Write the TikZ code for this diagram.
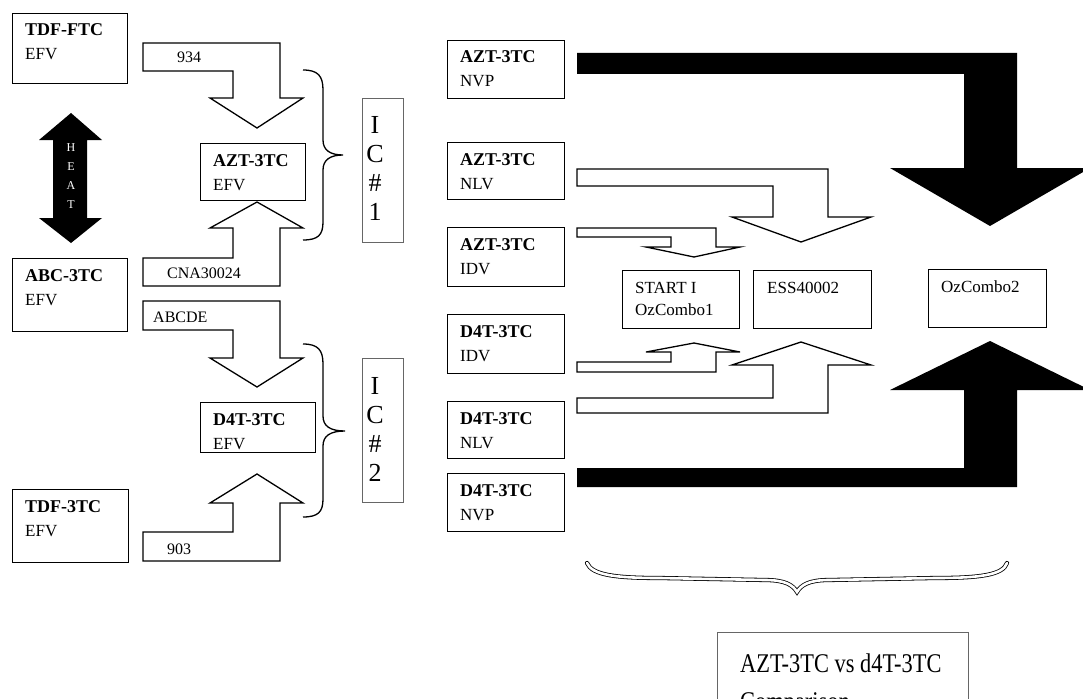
\documentclass[tikz,border=0pt]{standalone}
\usepackage{fontspec}
\setmainfont{Liberation Serif}
\newfontfamily\cmpfont[FakeStretch=0.83]{Liberation Serif}
\usetikzlibrary{calc}
\newcommand\twoline[7]{%
  \node[bx, minimum width=#4, minimum height=#5] (#1) at (#2,#3) {};
  \node[tx] (#1a) at ($(#1.north west)+(13,23)$) {#6};
  \node[tx] (#1b) at ($(#1.north west)+(13,47)$) {#7};}
\begin{document}
\begin{tikzpicture}[x=1pt,y=-1pt,
  bx/.style={draw, line width=1.4pt, inner sep=0pt, anchor=north west},
  tx/.style={inner sep=0pt, anchor=base west, font=\fontsize{17}{20}\selectfont},
  icbox/.style={draw=black!60, line width=0.8pt, inner sep=0pt, anchor=north west},
  ictext/.style={inner sep=0pt, align=center, font=\fontsize{26}{29}\selectfont},
  warrow/.style={draw, fill=white, line width=1.3pt, line join=miter},
  barrow/.style={fill=black},
  albl/.style={inner sep=0pt, anchor=base west, font=\fontsize{16}{18}\selectfont},
  brc/.style={line width=1.3pt}]
\clip (0,0) rectangle (1083,698);
\fill[white] (0,0) rectangle (1083,698);

% ---------- left column boxes
\twoline{tdf}{12}{13}{115}{70}{\textbf{\fontsize{18}{20}\selectfont TDF-FTC}}{EFV}
\twoline{abc}{12}{258}{115}{73}{\textbf{\fontsize{18}{20}\selectfont ABC-3TC}}{EFV}
\twoline{tdft}{12}{489}{116}{73}{\textbf{\fontsize{18}{20}\selectfont TDF-3TC}}{EFV}

% ---------- HEAT double arrow
\fill[barrow] (71,113) -- (102,140) -- (87,140) -- (87,218) -- (102,218) -- (71,243)
  -- (39,218) -- (53,218) -- (53,140) -- (39,140) -- cycle;
\node[text=white, inner sep=0pt, align=center, font=\fontsize{12}{19}\selectfont] (heat) at (71,176) {H\\E\\A\\T};

% ---------- left bent arrows
\path[warrow] (143,43) -- (280,43) -- (280,98) -- (303,98) -- (257,128) -- (210,98)
  -- (233,98) -- (233,71) -- (143,71) -- cycle;
\node[albl] (l934) at (177,63) {934};
\path[warrow] (143,286) -- (280,286) -- (280,228) -- (303,228) -- (257,202) -- (210,228)
  -- (233,228) -- (233,258) -- (143,258) -- cycle;
\node[albl] (lcna) at (167,278) {CNA30024};
\path[warrow] (143,301) -- (280,301) -- (280,358) -- (303,358) -- (257,387) -- (210,358)
  -- (233,358) -- (233,330) -- (143,330) -- cycle;
\node[albl] (labc) at (153,322) {ABCDE};
\path[warrow] (143,561) -- (280,561) -- (280,503) -- (303,503) -- (257,474) -- (210,503)
  -- (233,503) -- (233,532) -- (143,532) -- cycle;
\node[albl] (l903) at (167,554) {903};

% ---------- middle boxes
\twoline{azte}{200}{143}{105}{57}{\textbf{\fontsize{18}{20}\selectfont AZT-3TC}}{EFV}
\twoline{d4te}{200}{402}{115}{50}{\textbf{\fontsize{18}{20}\selectfont D4T-3TC}}{EFV}

% ---------- braces
\draw[brc] (303,70) .. controls (318,70) and (323,76) .. (323,90) -- (323,140)
  .. controls (323,150) and (330,155) .. (343,155)
  .. controls (330,155) and (323,160) .. (323,170) -- (323,222)
  .. controls (323,235) and (318,240) .. (303,240);
\draw[brc] (303,344) .. controls (318,344) and (323,350) .. (323,364) -- (323,416)
  .. controls (323,426) and (330,431) .. (345,431)
  .. controls (330,431) and (323,436) .. (323,446) -- (323,499)
  .. controls (323,512) and (318,517) .. (303,517);

% ---------- IC boxes
\node[icbox, minimum width=41, minimum height=144] (ic1) at (362,98) {};
\node[ictext] (ic1t) at (375,168) {I\\C\\\#\\1};
\node[icbox, minimum width=41, minimum height=144] (ic2) at (362,358) {};
\node[ictext] (ic2t) at (375,429) {I\\C\\\#\\2};

% ---------- right column boxes
\twoline{anvp}{447}{40}{117}{58}{\textbf{\fontsize{18}{20}\selectfont AZT-3TC}}{NVP}
\twoline{anlv}{447}{142}{117}{57}{\textbf{\fontsize{18}{20}\selectfont AZT-3TC}}{NLV}
\twoline{aidv}{447}{227}{117}{59}{\textbf{\fontsize{18}{20}\selectfont AZT-3TC}}{IDV}
\twoline{didv}{447}{314}{117}{59}{\textbf{\fontsize{18}{20}\selectfont D4T-3TC}}{IDV}
\twoline{dnlv}{447}{401}{117}{57}{\textbf{\fontsize{18}{20}\selectfont D4T-3TC}}{NLV}
\twoline{dnvp}{447}{473}{117}{58}{\textbf{\fontsize{18}{20}\selectfont D4T-3TC}}{NVP}

% ---------- black arrows
\fill[barrow] (577,53) -- (1017,53) -- (1017,168) -- (1090,168) -- (990,226) -- (890,168)
  -- (964,168) -- (964,74) -- (577,74) -- cycle;
\fill[barrow] (577,487) -- (1017,487) -- (1017,390) -- (1090,390) -- (990,341) -- (890,390)
  -- (964,390) -- (964,468) -- (577,468) -- cycle;

% ---------- white arrows to middle targets
\path[warrow] (577,169) -- (828,169) -- (828,217) -- (871,217) -- (801,242) -- (732,217)
  -- (773,217) -- (773,186) -- (577,186) -- cycle;
\path[warrow] (577,228) -- (716,228) -- (716,247) -- (740,247) -- (694,257) -- (646,247)
  -- (671,247) -- (671,237) -- (577,237) -- cycle;
\path[warrow] (577,372) -- (716,372) -- (716,352) -- (740,352) -- (694,343) -- (646,352)
  -- (671,352) -- (671,362) -- (577,362) -- cycle;
\path[warrow] (577,413) -- (828,413) -- (828,365) -- (871,365) -- (801,342) -- (732,365)
  -- (773,365) -- (773,398) -- (577,398) -- cycle;

% ---------- target boxes
\node[bx, minimum width=117, minimum height=58] (start) at (622,270) {};
\node[tx] (starta) at ($(start.north west)+(13,23)$) {START I};
\node[tx] (startb) at ($(start.north west)+(13,45)$) {OzCombo1};
\node[bx, minimum width=118, minimum height=58] (ess) at (753,270) {};
\node[tx] (essa) at ($(ess.north west)+(14,23)$) {ESS40002};
\node[bx, minimum width=118, minimum height=58] (oz2) at (928,269) {};
\node[tx] (oz2a) at ($(oz2.north west)+(13,23)$) {OzCombo2};

% ---------- bottom brace
\draw[line width=4.2pt, line cap=round] (587,563) .. controls (592,575) and (615,578) .. (660,578)
  -- (765,580) .. controls (785,580) and (793,585) .. (797,592)
  .. controls (801,585) and (809,580) .. (829,580) -- (935,578)
  .. controls (980,578) and (1003,575) .. (1007,563);
\draw[line width=2.6pt, white, line cap=round] (587,563) .. controls (592,575) and (615,578) .. (660,578)
  -- (765,580) .. controls (785,580) and (793,585) .. (797,592)
  .. controls (801,585) and (809,580) .. (829,580) -- (935,578)
  .. controls (980,578) and (1003,575) .. (1007,563);

% ---------- comparison box
\node[icbox, minimum width=251, minimum height=100] (cmp) at (717,632) {};
\node[inner sep=0pt, anchor=base west, font=\cmpfont\fontsize{27}{30}\selectfont] (cmpa) at (740,672) {AZT-3TC vs d4T-3TC};
\node[inner sep=0pt, anchor=base west, font=\cmpfont\fontsize{27}{30}\selectfont] (cmpb) at (740,710) {Comparison};
\end{tikzpicture}
\end{document}
